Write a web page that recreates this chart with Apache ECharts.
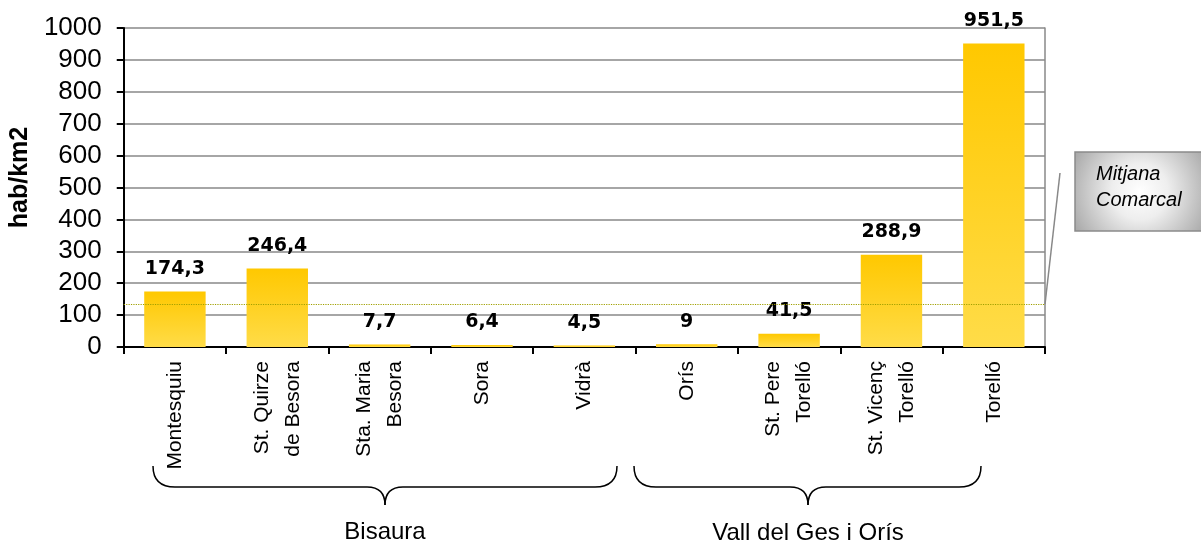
<!DOCTYPE html>
<html>
<head>
<meta charset="utf-8">
<script src="https://cdn.jsdelivr.net/npm/echarts@6/dist/echarts.min.js"></script>
<style>
    html, body { margin: 0; padding: 0; background: #fff; }
    #chart { width: 1201px; height: 540px; }
</style>
</head>
<body>
<div id="chart"></div>
<script>
// dades
const municipis = ['Montesquiu', 'St. Quirze\nde Besora', 'Sta. Maria\nBesora', 'Sora', 'Vidrà',
    'Orís', 'St. Pere\nTorelló', 'St. Vicenç\nTorelló', 'Torelló']
const densitat = [174.3, 246.4, 7.7, 6.4, 4.5, 9, 41.5, 288.9, 951.5]
const mitjanaComarcal = 134
const yTicks = { min: 0, max: 1000, interval: 100 }
const grups = ['Bisaura', 'Vall del Ges i Orís']

const myChart = echarts.init(document.getElementById('chart'))
const fontColor = '#000'
const gridColor = '#888'

// clau horitzontal (corxet): peces de corba + línia
function brace(x0, x1, mid, yTop, yLine, yTip) {
    const r = 22
    const st = { stroke: '#000', lineWidth: 1.5, fill: 'none' }
    const q = (ax, ay, cx, cy, bx, by) => ({
        type: 'bezierCurve', silent: true,
        shape: { x1: ax, y1: ay, cpx1: cx, cpy1: cy, x2: bx, y2: by },
        style: st
    })
    const l = (ax, ay, bx, by) => ({
        type: 'line', silent: true,
        shape: { x1: ax, y1: ay, x2: bx, y2: by },
        style: st
    })
    return [
        q(x0, yTop, x0, yLine, x0 + r, yLine),
        l(x0 + r, yLine, mid - 18, yLine),
        q(mid - 18, yLine, mid, yLine, mid, yTip),
        q(mid, yTip, mid, yLine, mid + 18, yLine),
        l(mid + 18, yLine, x1 - r, yLine),
        q(x1 - r, yLine, x1, yLine, x1, yTop)
    ]
}

let option = {
    backgroundColor: '#fff',
    animation: false,
    grid: { left: 122, right: 156, top: 28, bottom: 193 },
    xAxis: {
        type: 'category',
        data: municipis,
        axisLine: { lineStyle: { color: fontColor, width: 2 } },
        axisTick: { show: true, length: 7, lineStyle: { color: fontColor, width: 2 } },
        axisLabel: {
            interval: 0,
            rotate: 90,
            margin: 14,
            color: fontColor,
            fontFamily: 'Liberation Sans',
            fontSize: 21,
            lineHeight: 31
        }
    },
    yAxis: [
        {
            type: 'value',
            min: yTicks.min,
            max: yTicks.max,
            interval: yTicks.interval,
            name: 'hab/km2',
            nameLocation: 'middle',
            nameGap: 90,
            nameTextStyle: {
                color: fontColor,
                fontFamily: 'Liberation Sans',
                fontWeight: 'bold',
                fontSize: 25,
                padding: [0, 0, 0, 20]
            },
            axisLine: { show: true, lineStyle: { color: fontColor, width: 2 } },
            axisTick: { show: true, length: 7, lineStyle: { color: fontColor, width: 2 } },
            axisLabel: {
                color: fontColor,
                fontFamily: 'Liberation Sans',
                fontSize: 26,
                margin: 22,
                formatter: v => String(v)
            },
            splitLine: { show: true, lineStyle: { color: gridColor, width: 1.5 } }
        },
        {
            type: 'value',
            min: yTicks.min,
            max: yTicks.max,
            interval: yTicks.interval,
            position: 'right',
            axisLine: { show: true, lineStyle: { color: gridColor, width: 1.5 } },
            axisTick: { show: false },
            axisLabel: { show: false },
            splitLine: { show: false }
        }
    ],
    series: [
        {
            name: 'Densitat',
            type: 'bar',
            data: densitat,
            barCategoryGap: '40%',
            itemStyle: {
                color: new echarts.graphic.LinearGradient(0, 0, 0, 1, [
                    { offset: 0, color: '#ffc800' },
                    { offset: 1, color: '#ffdc48' }
                ])
            },
            label: {
                show: true,
                position: 'top',
                distance: 13,
                color: fontColor,
                fontFamily: 'DejaVu Sans',
                fontWeight: 'bold',
                fontSize: 19,
                formatter: p => String(p.value).replace('.', ',')
            },
            markLine: {
                silent: true,
                symbol: 'none',
                label: { show: false },
                lineStyle: { color: '#a0a000', type: 'dotted', width: 1.2 },
                data: [{ yAxis: mitjanaComarcal }]
            }
        }
    ]
}
myChart.setOption(option)

// anotacions: claus de grup, llegenda de la mitjana
const yMean = myChart.convertToPixel({ yAxisIndex: 0 }, mitjanaComarcal)
myChart.setOption({
    graphic: [
        ...brace(153, 617, 385, 466, 487, 505),
        ...brace(634, 981, 808, 466, 487, 505),
        {
            type: 'text',
            x: 385, y: 520,
            style: { text: grups[0], fontFamily: 'Liberation Sans', fontSize: 24, fill: '#000', align: 'center' }
        },
        {
            type: 'text',
            x: 808, y: 521,
            style: { text: grups[1], fontFamily: 'Liberation Sans', fontSize: 24, fill: '#000', align: 'center' }
        },
        {
            type: 'line',
            shape: { x1: 1060, y1: 173, x2: 1045, y2: yMean },
            style: { stroke: '#888', lineWidth: 1.5 }
        },
        {
            type: 'rect',
            shape: { x: 1075, y: 152, width: 130, height: 79 },
            style: {
                fill: {
                    type: 'radial', x: 0.5, y: 0.5, r: 1.0,
                    colorStops: [
                        { offset: 0, color: '#ffffff' },
                        { offset: 0.35, color: '#eeeeee' },
                        { offset: 1, color: '#a0a0a0' }
                    ]
                },
                stroke: '#8a8a8a',
                lineWidth: 1.5
            }
        },
        {
            type: 'text',
            x: 1096, y: 161,
            style: {
                text: 'Mitjana\nComarcal',
                fontFamily: 'Liberation Sans',
                fontStyle: 'italic',
                fontSize: 20,
                lineHeight: 26,
                fill: '#000'
            }
        }
    ]
})
</script>
</body>
</html>
